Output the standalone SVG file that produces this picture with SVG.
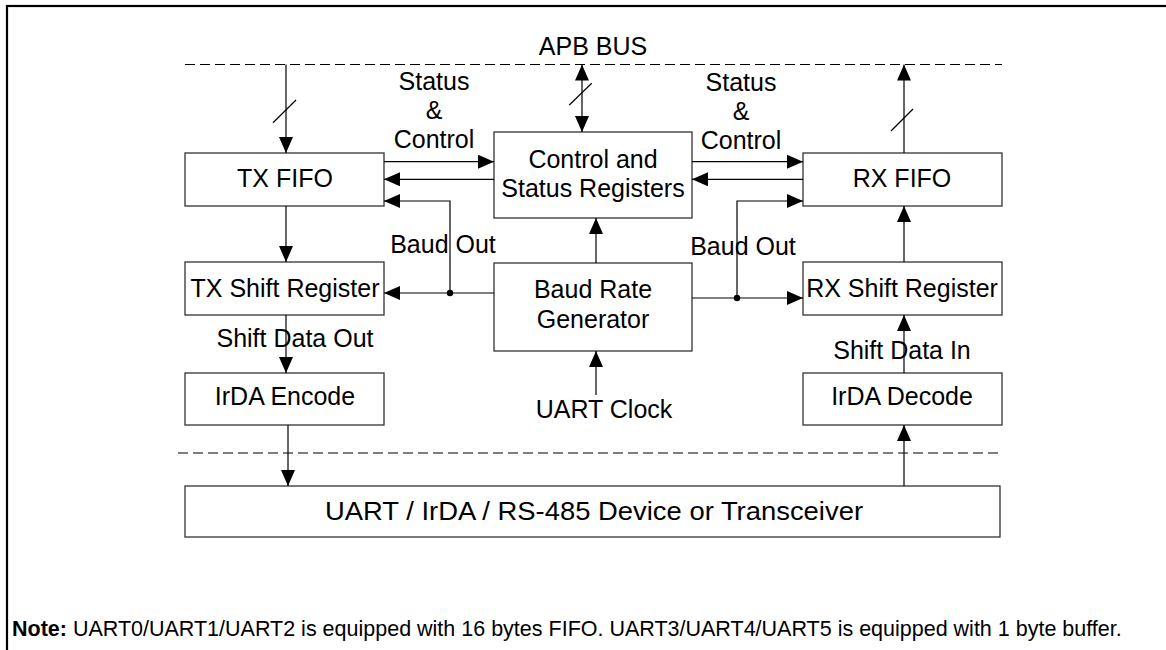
<svg xmlns="http://www.w3.org/2000/svg" width="1166" height="650" viewBox="0 0 1166 650">
<defs>
<style>
.box{fill:#fff;stroke:#333;stroke-width:1.3}
.ln{fill:none;stroke:#000;stroke-width:1.2}
.dash{fill:none;stroke:#000;stroke-width:1.2;stroke-dasharray:10 5}
.t{font-family:"Liberation Sans",Arial,sans-serif;font-size:25px;fill:#000;text-anchor:middle}
.n{font-family:"Liberation Sans",Arial,sans-serif;font-size:21.5px;fill:#000}
</style>
<marker id="ah" viewBox="0 0 16 14" refX="16" refY="7" markerWidth="16" markerHeight="14" markerUnits="userSpaceOnUse" orient="auto-start-reverse">
<path d="M0,0 L16,7 L0,14 Z" fill="#000"/>
</marker>
</defs>
<rect x="0" y="0" width="1166" height="650" fill="#fff"/>
<rect x="7" y="6" width="1200" height="700" fill="none" stroke="#000" stroke-width="2.2"/>

<g id="bus-lines">
<line class="dash" x1="185" y1="64.5" x2="1002" y2="64.5"/>
<line class="dash" x1="178" y1="453" x2="1002" y2="453"/>
<text class="t" x="593" y="55">APB BUS</text>
</g>

<g id="tx-fifo"><rect class="box" x="185" y="153" width="199" height="53"/><text class="t" x="285" y="187">TX FIFO</text></g>
<g id="ctrl-status"><rect class="box" x="494" y="132" width="198" height="86"/><text class="t" x="593" y="168">Control and</text><text class="t" x="593" y="197">Status Registers</text></g>
<g id="rx-fifo"><rect class="box" x="803" y="153" width="199" height="53"/><text class="t" x="902" y="187">RX FIFO</text></g>
<g id="tx-shift"><rect class="box" x="185" y="262" width="199" height="53"/><text class="t" x="285" y="297">TX Shift Register</text></g>
<g id="baud-gen"><rect class="box" x="494" y="263" width="198" height="88"/><text class="t" x="593" y="298">Baud Rate</text><text class="t" x="593" y="328">Generator</text></g>
<g id="rx-shift"><rect class="box" x="803" y="262" width="199" height="53"/><text class="t" x="902" y="297">RX Shift Register</text></g>
<g id="irda-enc"><rect class="box" x="185" y="373" width="199" height="52"/><text class="t" x="285" y="405">IrDA Encode</text></g>
<g id="irda-dec"><rect class="box" x="803" y="373" width="199" height="52"/><text class="t" x="902" y="405">IrDA Decode</text></g>
<g id="device"><rect class="box" x="185" y="486" width="815" height="51"/><text class="t" x="594" y="520" textLength="538" lengthAdjust="spacingAndGlyphs">UART / IrDA / RS-485 Device or Transceiver</text></g>

<g id="connectors">
<line class="ln" x1="286" y1="64.5" x2="286" y2="153" marker-end="url(#ah)"/>
<line class="ln" x1="273" y1="122.7" x2="296" y2="100"/>
<line class="ln" x1="582" y1="64.5" x2="582" y2="132" marker-start="url(#ah)" marker-end="url(#ah)"/>
<line class="ln" x1="569.3" y1="105" x2="591.7" y2="83.3"/>
<line class="ln" x1="904" y1="153" x2="904" y2="64.5" marker-end="url(#ah)"/>
<line class="ln" x1="891" y1="131" x2="913" y2="109"/>
<line class="ln" x1="384" y1="161.7" x2="494" y2="161.7" marker-end="url(#ah)"/>
<line class="ln" x1="494" y1="179.3" x2="384" y2="179.3" marker-end="url(#ah)"/>
<line class="ln" x1="692" y1="161.7" x2="803" y2="161.7" marker-end="url(#ah)"/>
<line class="ln" x1="803" y1="179.3" x2="692" y2="179.3" marker-end="url(#ah)"/>
<line class="ln" x1="494" y1="293" x2="384" y2="293" marker-end="url(#ah)"/>
<polyline class="ln" points="450,293 450,201 384,201" marker-end="url(#ah)"/>
<circle cx="450" cy="293" r="3.2" fill="#000"/>
<line class="ln" x1="692" y1="298" x2="803" y2="298" marker-end="url(#ah)"/>
<polyline class="ln" points="737,298 737,201 803,201" marker-end="url(#ah)"/>
<circle cx="737" cy="298" r="3.2" fill="#000"/>
<line class="ln" x1="596" y1="263" x2="596" y2="218" marker-end="url(#ah)"/>
<line class="ln" x1="596" y1="395" x2="596" y2="351" marker-end="url(#ah)"/>
<line class="ln" x1="286" y1="206" x2="286" y2="262" marker-end="url(#ah)"/>
<line class="ln" x1="286" y1="315" x2="286" y2="373" marker-end="url(#ah)"/>
<line class="ln" x1="288" y1="425" x2="288" y2="486" marker-end="url(#ah)"/>
<line class="ln" x1="904" y1="262" x2="904" y2="206" marker-end="url(#ah)"/>
<line class="ln" x1="904" y1="373" x2="904" y2="315" marker-end="url(#ah)"/>
<line class="ln" x1="904" y1="486" x2="904" y2="425" marker-end="url(#ah)"/>
</g>

<g id="labels">
<text class="t" x="434" y="90">Status</text>
<text class="t" x="434" y="119">&amp;</text>
<text class="t" x="434" y="148">Control</text>
<text class="t" x="741" y="91">Status</text>
<text class="t" x="741" y="120">&amp;</text>
<text class="t" x="741" y="149">Control</text>
<text class="t" x="443" y="253">Baud Out</text>
<text class="t" x="743" y="255">Baud Out</text>
<text class="t" x="295" y="347">Shift Data Out</text>
<text class="t" x="902" y="359">Shift Data In</text>
<text class="t" x="604" y="418">UART Clock</text>
</g>

<text class="n" x="12" y="636"><tspan font-weight="bold">Note:</tspan> UART0/UART1/UART2 is equipped with 16 bytes FIFO. UART3/UART4/UART5 is equipped with 1 byte buffer.</text>
</svg>
